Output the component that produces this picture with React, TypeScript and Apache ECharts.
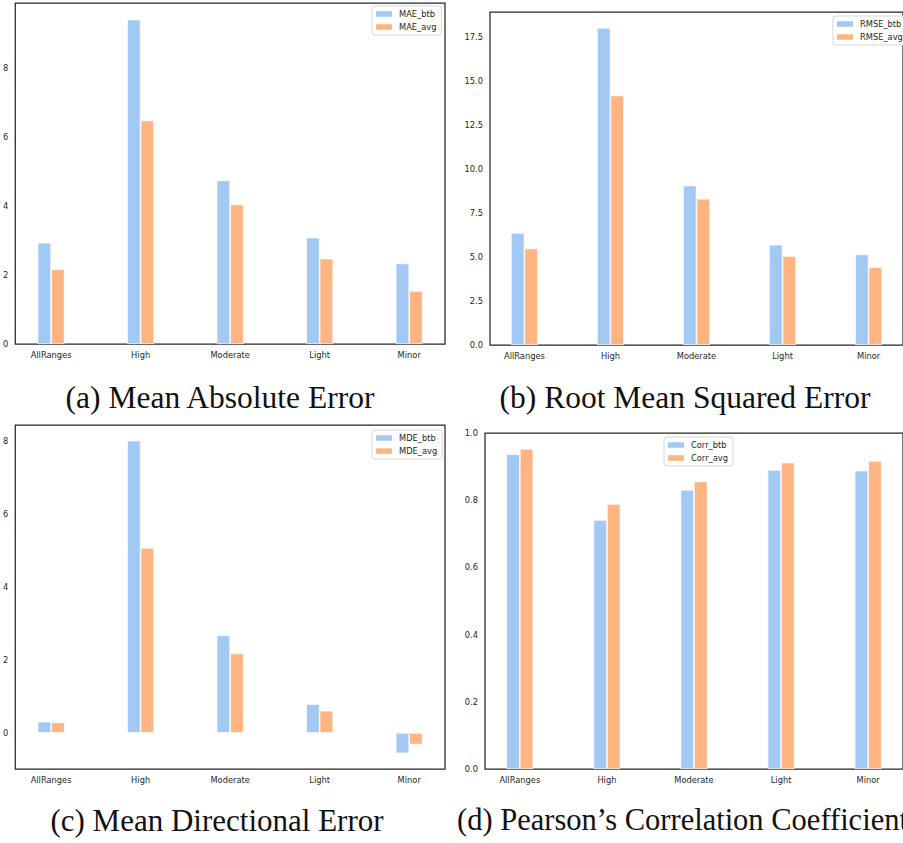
import React, { useEffect, useRef } from "react";
import * as echarts from "echarts";

// Rainfall-range categories shared by all four panels
const categories = ["AllRanges", "High", "Moderate", "Light", "Minor"];

// (a) Mean Absolute Error
const maeBtb = [2.94, 9.42, 4.75, 3.09, 2.34];
const maeAvg = [2.17, 6.49, 4.05, 2.48, 1.54];
const maeTicks = [0, 2, 4, 6, 8];

// (b) Root Mean Squared Error
const rmseBtb = [6.36, 18.0, 9.05, 5.69, 5.14];
const rmseAvg = [5.48, 14.16, 8.3, 5.05, 4.42];
const rmseTicks = [0, 2.5, 5, 7.5, 10, 12.5, 15, 17.5];

// (c) Mean Directional Error
const mdeBtb = [0.31, 8.02, 2.68, 0.79, -0.56];
const mdeAvg = [0.29, 5.08, 2.18, 0.61, -0.32];
const mdeTicks = [0, 2, 4, 6, 8];

// (d) Pearson's Correlation Coefficient
const corrBtb = [0.937, 0.741, 0.831, 0.89, 0.888];
const corrAvg = [0.953, 0.789, 0.856, 0.912, 0.917];
const corrTicks = [0, 0.2, 0.4, 0.6, 0.8, 1.0];

const BLUE = "#a1c9f4";
const ORANGE = "#ffb482";
const INK = "#262626";
const TICK_FONT = "DejaVu Sans";

type Panel = {
  prefix: string;
  btb: number[];
  avg: number[];
  ticks: number[];
  decimals: number;
  yMin: number;
  yMax: number;
  grid: { left: number; top: number; width: number; height: number };
  legend: { left: number; top: number };
};

const panels: Panel[] = [
  {
    prefix: "MAE",
    btb: maeBtb,
    avg: maeAvg,
    ticks: maeTicks,
    decimals: 0,
    yMin: 0,
    yMax: 9.9,
    grid: { left: 13, top: 3, width: 432, height: 341 },
    legend: { left: 372, top: 6 },
  },
  {
    prefix: "RMSE",
    btb: rmseBtb,
    avg: rmseAvg,
    ticks: rmseTicks,
    decimals: 1,
    yMin: 0,
    yMax: 18.9,
    grid: { left: 490, top: 12, width: 418, height: 333 },
    legend: { left: 833, top: 16 },
  },
  {
    prefix: "MDE",
    btb: mdeBtb,
    avg: mdeAvg,
    ticks: mdeTicks,
    decimals: 0,
    yMin: -0.99,
    yMax: 8.45,
    grid: { left: 13, top: 425, width: 432, height: 344 },
    legend: { left: 372, top: 430 },
  },
  {
    prefix: "Corr",
    btb: corrBtb,
    avg: corrAvg,
    ticks: corrTicks,
    decimals: 1,
    yMin: 0,
    yMax: 1.0,
    grid: { left: 485, top: 433, width: 422, height: 336 },
    legend: { left: 664, top: 437 },
  },
];

const captions = [
  { text: "(a) Mean Absolute Error", x: 220, y: 397, align: "center", size: 31.5 },
  { text: "(b) Root Mean Squared Error", x: 685, y: 397, align: "center", size: 31.5 },
  { text: "(c) Mean Directional Error", x: 217, y: 820, align: "center", size: 31 },
  { text: "(d) Pearson\u2019s Correlation Coefficient", x: 457, y: 820, align: "left", size: 30.5 },
];

function buildOption() {
  const grid: any[] = [];
  const xAxis: any[] = [];
  const yAxis: any[] = [];
  const series: any[] = [];
  const legend: any[] = [];

  panels.forEach((p, i) => {
    grid.push({
      ...p.grid,
      show: true,
      borderColor: INK,
      borderWidth: 1.25,
      backgroundColor: "transparent",
      containLabel: false,
    });
    xAxis.push({
      type: "value",
      gridIndex: i,
      min: -0.4,
      max: 4.4,
      axisLine: { show: false, onZero: false },
      axisTick: { show: false },
      splitLine: { show: false },
      axisLabel: {
        customValues: categories.map((_, k) => k),
        formatter: (v: number) => categories[Math.round(v)] ?? "",
        color: INK,
        fontFamily: TICK_FONT,
        fontSize: 8.3,
        margin: 7,
      },
    });
    yAxis.push({
      type: "value",
      gridIndex: i,
      min: p.yMin,
      max: p.yMax,
      axisLine: { show: false, onZero: false },
      axisTick: { show: false },
      splitLine: { show: false },
      axisLabel: {
        customValues: p.ticks,
        formatter: (v: number) => v.toFixed(p.decimals),
        color: INK,
        fontFamily: TICK_FONT,
        fontSize: 8.3,
        margin: 7,
      },
    });
    const names = [`${p.prefix}_btb`, `${p.prefix}_avg`];
    [p.btb, p.avg].forEach((vals, s) => {
      series.push({
        type: "bar",
        name: names[s],
        xAxisIndex: i,
        yAxisIndex: i,
        data: vals.map((v, k) => [k, v]),
        barWidth: 13.5,
        barGap: "0%",
        itemStyle: {
          color: s === 0 ? BLUE : ORANGE,
          borderColor: "#ffffff",
          borderWidth: 0.7,
        },
      });
    });
    legend.push({
      data: names,
      left: p.legend.left,
      top: p.legend.top,
      orient: "vertical",
      icon: "rect",
      itemWidth: 16,
      itemHeight: 5.5,
      itemGap: 3,
      padding: [3, 5, 3, 4],
      borderColor: "#d6d6d6",
      borderWidth: 1,
      borderRadius: 3,
      backgroundColor: "#ffffff",
      selectedMode: false,
      itemStyle: { borderWidth: 0 },
      textStyle: {
        color: INK,
        fontFamily: TICK_FONT,
        fontSize: 8.3,
        lineHeight: 10,
        padding: [0, 0, 0, 2],
      },
    });
  });

  const graphic = captions.map((c) => ({
    type: "text",
    x: c.x,
    y: c.y,
    style: {
      text: c.text,
      fill: "#111111",
      font: `${c.size}px "Liberation Serif"`,
      align: c.align,
      verticalAlign: "middle",
    },
  }));

  return {
    animation: false,
    backgroundColor: "#ffffff",
    grid,
    xAxis,
    yAxis,
    series,
    legend,
    graphic,
  };
}

export default function App() {
  const ref = useRef<HTMLDivElement>(null);

  useEffect(() => {
    if (!ref.current) return;
    const chart = echarts.init(ref.current, null, { renderer: "svg" });
    chart.setOption(buildOption() as any);
    return () => chart.dispose();
  }, []);

  return (
    <div
      style={{
        position: "fixed",
        left: 0,
        top: 0,
        width: 903,
        height: 843,
        overflow: "hidden",
        background: "#ffffff",
      }}
    >
      <div ref={ref} style={{ width: 903, height: 843 }} />
    </div>
  );
}
